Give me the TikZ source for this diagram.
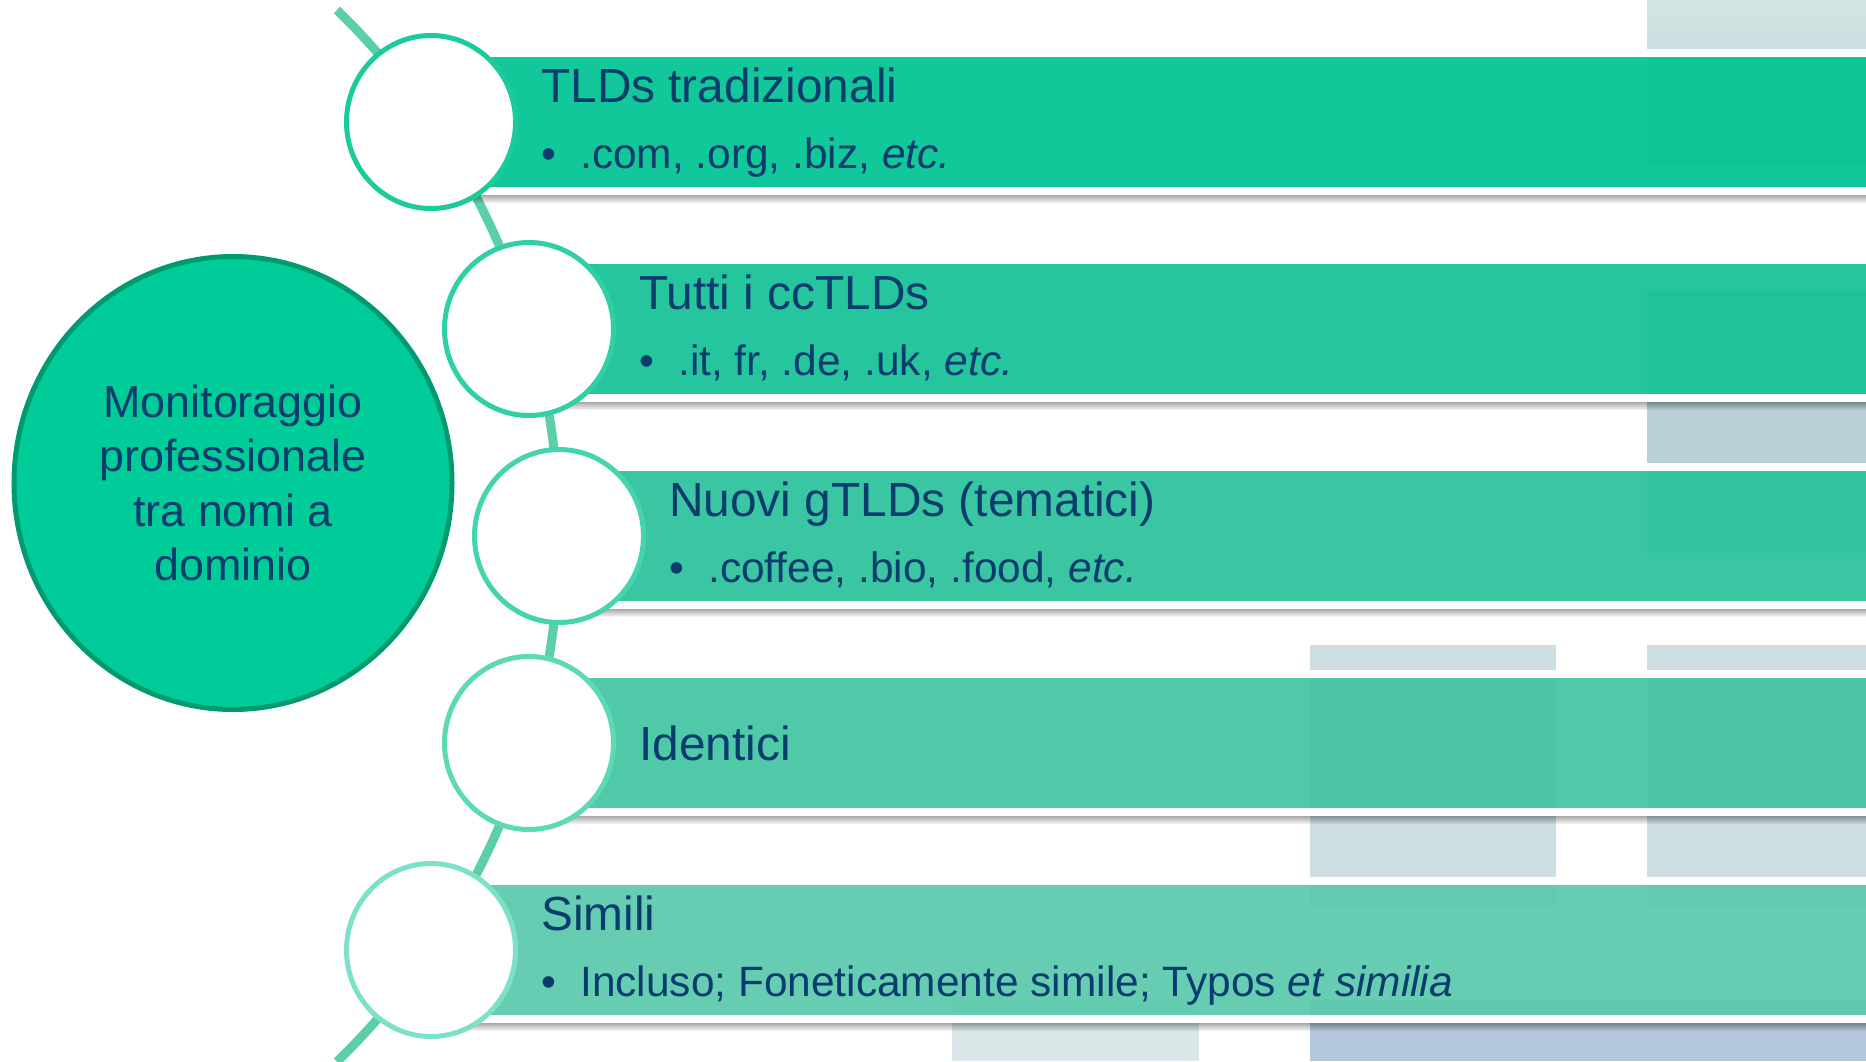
\documentclass[tikz,border=0pt]{standalone}
\usepackage{fontspec}
\setmainfont{Liberation Sans}
\usetikzlibrary{shapes.geometric}

\definecolor{navy}{HTML}{0A3C6E}
\definecolor{hubfill}{HTML}{00CC99}
\definecolor{hubline}{HTML}{009A70}
\definecolor{arcgreen}{HTML}{5CCFA6}
\definecolor{barA}{HTML}{00C492}
\definecolor{barB}{HTML}{14C297}
\definecolor{barC}{HTML}{2BC29C}
\definecolor{barD}{HTML}{43C5A2}
\definecolor{barE}{HTML}{5AC9AC}
\definecolor{ringA}{HTML}{1CCB9C}
\definecolor{ringB}{HTML}{30D0A4}
\definecolor{ringC}{HTML}{46D4AD}
\definecolor{ringD}{HTML}{5DD9B6}
\definecolor{ringE}{HTML}{7DE1C8}
\definecolor{blocktop}{HTML}{D3E4E4}
\definecolor{blockgrey}{HTML}{B8D1D5}
\definecolor{blockpale}{HTML}{CDDFE2}
\definecolor{blocklight}{HTML}{D9E7E8}
\definecolor{blockblue}{HTML}{B4C7DC}

\begin{document}
\begin{tikzpicture}[x=1bp, y=-1bp,
	hub/.style={ellipse, fill=hubfill, draw=hubline, line width=5bp, minimum width=438bp, minimum height=453bp, align=center, text=navy, font=\fontsize{45}{54.6}\selectfont},
	ring/.style={ellipse, fill=white, draw=#1, line width=5bp, minimum width=169bp, minimum height=173bp},
	head/.style={anchor=base west, inner sep=0pt, text=navy, font=\fontsize{48}{56}\selectfont},
	item/.style={anchor=base west, inner sep=0pt, text=navy, font=\fontsize{42.6}{50}\selectfont}]
\useasboundingbox (0,0) rectangle (1866,1061);

% pale blocks in the background
\shade[top color=blocktop, bottom color=blockgrey] (1647,0) rectangle (1866,165);
\fill[blockgrey] (1647,290) rectangle (1866,553);
\fill[blockpale] (1310,645) rectangle (1556,907);
\fill[blockpale] (1647,645) rectangle (1866,907);
\fill[blocklight] (952,997) rectangle (1199,1061);
\fill[blockblue] (1310,1000) rectangle (1866,1061);

% the arc behind the rings
\draw[arcgreen, line width=9bp] (337,10) arc[start angle=-45.8, end angle=45.8, radius=733.5];

% bars
\foreach \cx/\top/\col in {431/57/barA, 529/264/barB, 559/471/barC, 529/678/barD, 431/885/barE}{
	\foreach \k in {0,...,7}
		\fill[black, opacity=.34-.04*\k] (\cx,\top+138+\k) rectangle (1866,\top+139+\k);
	\draw[white, line width=8bp] (\cx,\top-4) rectangle (1875,\top+134);
	\fill[\col, fill opacity=.93] (\cx,\top) rectangle (1866,\top+130);
	}

% rings
\node[ring=ringA] (c1) at (431,122) {};
\node[ring=ringB] (c2) at (529,329) {};
\node[ring=ringC] (c3) at (559,536) {};
\node[ring=ringD] (c4) at (529,743) {};
\node[ring=ringE] (c5) at (431,950) {};

\node[hub] (main) at (233,483) {Monitoraggio\\professionale\\tra nomi a\\dominio};

% texts
\node[head] (t1) at (541,102) {TLDs tradizionali};
\node[item] (d1) at (541,168) {•};
\node[item] (l1) at (580,168) {.com, .org, .biz, \textit{etc.}};

\node[head] (t2) at (639,309) {Tutti i ccTLDs};
\node[item] (d2) at (639,375) {•};
\node[item] (l2) at (678,375) {.it, fr, .de, .uk, \textit{etc.}};

\node[head] (t3) at (669,516) {Nuovi gTLDs (tematici)};
\node[item] (d3) at (669,582) {•};
\node[item] (l3) at (708,582) {.coffee, .bio, .food, \textit{etc.}};

\node[head] (t4) at (639,760) {Identici};

\node[head] (t5) at (541,930) {Simili};
\node[item] (d5) at (541,996) {•};
\node[item] (l5) at (580,996) {Incluso; Foneticamente simile; Typos \textit{et similia}};
\end{tikzpicture}
\end{document}
